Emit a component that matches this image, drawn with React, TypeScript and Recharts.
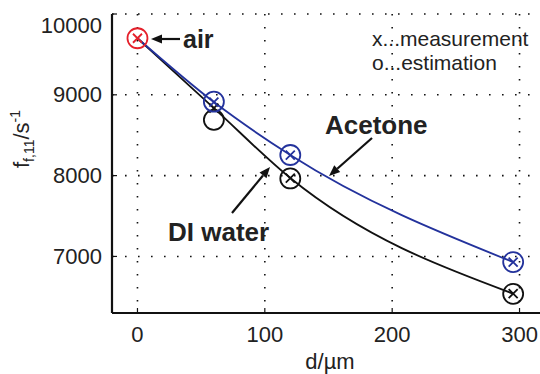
import React from "react";
import {
  ComposedChart,
  Line,
  Scatter,
  XAxis,
  YAxis,
  CartesianGrid,
} from "recharts";

// d in µm, f in 1/s
const airDistance = [0];
const airFrequency = [9700];
const distances = [60, 120, 295];
const acetoneMeasured = [8910, 8255, 6930];
const acetoneEstimated = [8915, 8255, 6930];
const waterMeasured = [8835, 7970, 6540];
const waterEstimated = [8690, 7965, 6537];
const xTicks = [0, 100, 200, 300];
const yTicks = [7000, 8000, 9000, 10000];

const toPoints = (xs: number[], ys: number[]) =>
  xs.map((x, i) => ({ x, y: ys[i] }));

const acetoneCurve = toPoints(
  [...airDistance, ...distances],
  [...airFrequency, ...acetoneMeasured]
);
const waterCurve = toPoints(
  [...airDistance, ...distances],
  [...airFrequency, ...waterMeasured]
);
const airPoint = toPoints(airDistance, airFrequency);

const BLUE = "#23329c";
const BLACK = "#111";
const RED = "#e5202b";

const marker =
  (color: string, circle: boolean, cross: boolean) => (props: any) => {
    const { cx, cy } = props;
    return (
      <g>
        {circle && (
          <circle cx={cx} cy={cy} r={10} fill="none" stroke={color} strokeWidth={1.8} />
        )}
        {cross && (
          <path
            d={`M${cx - 4.5},${cy - 4.5}L${cx + 4.5},${cy + 4.5}M${cx - 4.5},${cy + 4.5}L${cx + 4.5},${cy - 4.5}`}
            stroke={color}
            strokeWidth={1.8}
          />
        )}
      </g>
    );
  };

const YTick = (props: any) => {
  const { x, y, payload } = props;
  const shift = payload.value === 10000 ? 11 : 0;
  return (
    <text x={x} y={y + shift} textAnchor="end" dominantBaseline="central" fontSize={22} fill="#222">
      {payload.value}
    </text>
  );
};

const Arrow = ({ x1, y1, x2, y2 }: { x1: number; y1: number; x2: number; y2: number }) => {
  const a = Math.atan2(y2 - y1, x2 - x1);
  const len = 11;
  const w = 4.5;
  const bx = x2 - len * Math.cos(a);
  const by = y2 - len * Math.sin(a);
  const px = -Math.sin(a) * w;
  const py = Math.cos(a) * w;
  return (
    <g>
      <line x1={x1} y1={y1} x2={bx} y2={by} stroke={BLACK} strokeWidth={2.2} />
      <polygon points={`${x2},${y2} ${bx + px},${by + py} ${bx - px},${by - py}`} fill={BLACK} />
    </g>
  );
};

export default function App() {
  return (
    <div
      style={{
        position: "absolute",
        left: 0,
        top: 0,
        width: 540,
        height: 374,
        overflow: "hidden",
        background: "#fff",
        fontFamily: "'Liberation Sans', Arial, sans-serif",
      }}
    >
      <ComposedChart
        width={600}
        height={374}
        margin={{ top: 14, right: 55, left: 0, bottom: 0 }}
      >
        <CartesianGrid stroke={BLACK} strokeWidth={1.6} strokeDasharray="1.6 11.4" />
        <XAxis
          dataKey="x"
          type="number"
          domain={[-20, 320]}
          ticks={xTicks}
          allowDataOverflow
          height={61}
          tickSize={-5}
          tickMargin={18}
          tick={{ fontSize: 22, fill: "#222" }}
          axisLine={{ stroke: BLACK, strokeWidth: 2.2 }}
          tickLine={{ stroke: BLACK, strokeWidth: 1.2 }}
        />
        <XAxis
          xAxisId="top"
          orientation="top"
          dataKey="x"
          type="number"
          domain={[-20, 320]}
          ticks={xTicks}
          allowDataOverflow
          height={0}
          tick={false}
          tickLine={false}
          axisLine={{ stroke: BLACK, strokeWidth: 2.2 }}
        />
        <YAxis
          dataKey="y"
          type="number"
          domain={[6300, 10000]}
          ticks={yTicks}
          allowDataOverflow
          width={112}
          tickSize={-5}
          tickMargin={15}
          tick={<YTick />}
          axisLine={{ stroke: BLACK, strokeWidth: 2.2 }}
          tickLine={{ stroke: BLACK, strokeWidth: 1.2 }}
        />
        <Line
          data={waterCurve}
          dataKey="y"
          type="monotone"
          stroke={BLACK}
          strokeWidth={1.8}
          dot={false}
          isAnimationActive={false}
        />
        <Line
          data={acetoneCurve}
          dataKey="y"
          type="monotone"
          stroke={BLUE}
          strokeWidth={1.8}
          dot={false}
          isAnimationActive={false}
        />
        <Scatter data={toPoints(distances, waterEstimated)} dataKey="y" shape={marker(BLACK, true, false)} isAnimationActive={false} />
        <Scatter data={toPoints(distances, waterMeasured)} dataKey="y" shape={marker(BLACK, false, true)} isAnimationActive={false} />
        <Scatter data={toPoints(distances, acetoneEstimated)} dataKey="y" shape={marker(BLUE, true, false)} isAnimationActive={false} />
        <Scatter data={toPoints(distances, acetoneMeasured)} dataKey="y" shape={marker(BLUE, false, true)} isAnimationActive={false} />
        <Scatter data={airPoint} dataKey="y" shape={marker(RED, true, true)} isAnimationActive={false} />
      </ComposedChart>
      <svg
        width={540}
        height={374}
        style={{ position: "absolute", left: 0, top: 0, pointerEvents: "none" }}
      >
        <text x={330} y={369} textAnchor="middle" fontSize={22} fill="#222">
          d/µm
        </text>
        <text transform="translate(29,168) rotate(-90)" fontSize={22} fill="#222">
          f
          <tspan fontSize={14} dy={5}>f,11</tspan>
          <tspan dy={-5}>/s</tspan>
          <tspan fontSize={14} dy={-9}>-1</tspan>
        </text>
        <text x={372} y={46} fontSize={21} fill="#222">x...measurement</text>
        <text x={372} y={70} fontSize={21} fill="#222">o...estimation</text>
        <text x={183} y={48} fontSize={25} fontWeight="bold" fill="#222">air</text>
        <Arrow x1={180} y1={39} x2={151} y2={39} />
        <text x={325} y={134} fontSize={26} fontWeight="bold" fill="#222">Acetone</text>
        <Arrow x1={372} y1={138} x2={329} y2={176} />
        <text x={168} y={241} fontSize={26} fontWeight="bold" fill="#222">DI water</text>
        <Arrow x1={232} y1={213} x2={270} y2={167} />
      </svg>
    </div>
  );
}
